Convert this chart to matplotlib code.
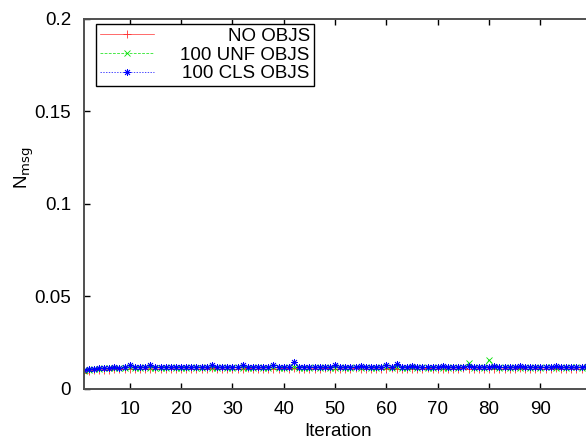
import matplotlib
matplotlib.use("Agg")
import matplotlib.pyplot as plt
from matplotlib.ticker import FormatStrFormatter
import numpy as np

iterations = list(range(1, 100))

no_objs = [
    0.0088, 0.0097, 0.0101, 0.0103, 0.0105, 0.0104, 0.0107, 0.0106, 0.0108, 0.0107,
    0.0109, 0.0106, 0.0108, 0.0110, 0.0107, 0.0109, 0.0106, 0.0108, 0.0110, 0.0107,
    0.0109, 0.0108, 0.0106, 0.0110, 0.0108, 0.0111, 0.0107, 0.0109, 0.0108, 0.0110,
    0.0106, 0.0109, 0.0111, 0.0107, 0.0108, 0.0110, 0.0106, 0.0109, 0.0108, 0.0111,
    0.0107, 0.0112, 0.0108, 0.0106, 0.0110, 0.0109, 0.0107, 0.0111, 0.0108, 0.0106,
    0.0110, 0.0108, 0.0107, 0.0111, 0.0109, 0.0106, 0.0108, 0.0110, 0.0107, 0.0109,
    0.0111, 0.0108, 0.0106, 0.0109, 0.0110, 0.0107, 0.0108, 0.0111, 0.0106, 0.0109,
    0.0108, 0.0110, 0.0107, 0.0109, 0.0111, 0.0106, 0.0108, 0.0110, 0.0107, 0.0109,
    0.0108, 0.0106, 0.0110, 0.0109, 0.0107, 0.0111, 0.0108, 0.0106, 0.0109, 0.0110,
    0.0107, 0.0108, 0.0111, 0.0106, 0.0109, 0.0108, 0.0110, 0.0107, 0.0109,
]

unf_objs = [
    0.0098, 0.0105, 0.0108, 0.0110, 0.0112, 0.0111, 0.0114, 0.0113, 0.0115, 0.0117,
    0.0114, 0.0116, 0.0118, 0.0115, 0.0113, 0.0116, 0.0114, 0.0117, 0.0115, 0.0116,
    0.0114, 0.0117, 0.0115, 0.0113, 0.0118, 0.0116, 0.0114, 0.0117, 0.0115, 0.0116,
    0.0118, 0.0114, 0.0116, 0.0115, 0.0117, 0.0113, 0.0116, 0.0118, 0.0115, 0.0114,
    0.0117, 0.0119, 0.0115, 0.0116, 0.0114, 0.0117, 0.0115, 0.0118, 0.0116, 0.0114,
    0.0117, 0.0115, 0.0116, 0.0118, 0.0114, 0.0117, 0.0116, 0.0115, 0.0119, 0.0117,
    0.0115, 0.0118, 0.0116, 0.0114, 0.0117, 0.0115, 0.0118, 0.0116, 0.0114, 0.0117,
    0.0115, 0.0116, 0.0118, 0.0115, 0.0117, 0.0140, 0.0116, 0.0118, 0.0115, 0.0158,
    0.0117, 0.0115, 0.0118, 0.0116, 0.0119, 0.0115, 0.0117, 0.0116, 0.0118, 0.0115,
    0.0117, 0.0119, 0.0116, 0.0118, 0.0115, 0.0117, 0.0119, 0.0116, 0.0118,
]

cls_objs = [
    0.0100, 0.0108, 0.0110, 0.0112, 0.0115, 0.0114, 0.0117, 0.0116, 0.0118, 0.0128,
    0.0119, 0.0117, 0.0120, 0.0128, 0.0118, 0.0120, 0.0117, 0.0119, 0.0121, 0.0118,
    0.0120, 0.0119, 0.0117, 0.0121, 0.0119, 0.0128, 0.0118, 0.0120, 0.0119, 0.0121,
    0.0118, 0.0130, 0.0120, 0.0118, 0.0121, 0.0119, 0.0117, 0.0128, 0.0120, 0.0118,
    0.0121, 0.0145, 0.0119, 0.0120, 0.0118, 0.0121, 0.0119, 0.0120, 0.0118, 0.0128,
    0.0120, 0.0118, 0.0121, 0.0119, 0.0122, 0.0118, 0.0120, 0.0121, 0.0119, 0.0130,
    0.0120, 0.0135, 0.0121, 0.0119, 0.0122, 0.0120, 0.0118, 0.0121, 0.0119, 0.0120,
    0.0122, 0.0118, 0.0121, 0.0119, 0.0120, 0.0122, 0.0118, 0.0121, 0.0119, 0.0120,
    0.0122, 0.0119, 0.0121, 0.0118, 0.0120, 0.0122, 0.0119, 0.0121, 0.0120, 0.0118,
    0.0121, 0.0119, 0.0122, 0.0120, 0.0118, 0.0121, 0.0119, 0.0120, 0.0122,
]

series_labels = ['NO OBJS', '100 UNF OBJS', '100 CLS OBJS']

plt.rcParams['font.family'] = ['Liberation Sans', 'DejaVu Sans']
plt.rcParams['font.size'] = 13.5

fig = plt.figure(figsize=(5.86, 4.43), dpi=100)
# right border of the plot lies just outside the picture, as in the original
ax = fig.add_axes([0.1425, 0.1219, 0.8674, 0.8363])

ax.plot(iterations, no_objs, color='#ff3030', linestyle='-', linewidth=0.5,
        marker='+', markersize=6, markeredgewidth=0.6, label=series_labels[0])
ax.plot(iterations, unf_objs, color='#00e000', linestyle=(0, (4, 2)), linewidth=0.5,
        marker='x', markersize=4.5, markeredgewidth=0.6, label=series_labels[1])
ax.plot(iterations, cls_objs, color='#0000ff', linestyle=(0, (2, 2)), linewidth=0.5,
        marker=(8, 2, 0), markersize=5, markeredgewidth=0.6, label=series_labels[2])

ax.set_xlim(1, 100)
ax.set_ylim(0, 0.2)
ax.set_xticks(np.arange(10, 91, 10))
ax.set_yticks(np.arange(0, 0.21, 0.05))
ax.yaxis.set_major_formatter(FormatStrFormatter('%g'))
ax.tick_params(direction='in', length=4.5, width=1, pad=9, top=True, right=True)

for s in ax.spines.values():
    s.set_color('#505050')
    s.set_linewidth(1.4)

ax.set_xlabel('Iteration')
ax.set_ylabel(r'N$_{\mathrm{msg}}$')
ax.xaxis.set_label_coords(0.5, -0.092)
ax.yaxis.set_label_coords(-0.094, 0.596)

leg = ax.legend(loc='upper left', bbox_to_anchor=(0.0246, 0.985), borderaxespad=0,
                fancybox=False, edgecolor='black', framealpha=1, handlelength=2.9,
                handletextpad=1.4, labelspacing=0.08, borderpad=0.2)
leg.get_frame().set_linewidth(1.0)

# right-align legend text like gnuplot does
fig.canvas.draw()
renderer = fig.canvas.get_renderer()
widths = [t.get_window_extent(renderer).width for t in leg.get_texts()]
for t, w in zip(leg.get_texts(), widths):
    t.set_position((max(widths) - w, 0))

fig.savefig('out.png', dpi=100)
